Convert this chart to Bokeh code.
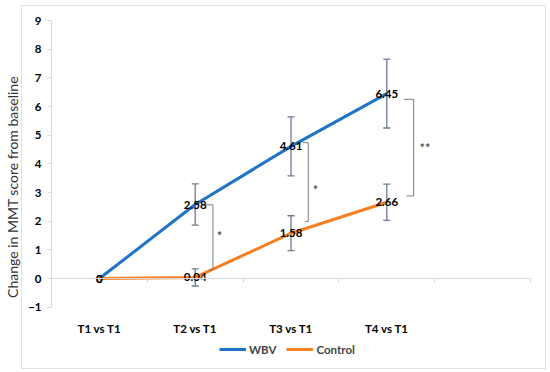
from bokeh.plotting import figure
from bokeh.models import (ColumnDataSource, Whisker, TeeHead, Legend,
                          LegendItem, FixedTicker, LinearAxis)
from bokeh.core.properties import value
from bokeh.embed import file_html
from bokeh.resources import INLINE

# ---- data -------------------------------------------------------------
categories = ["T1 vs T1", "T2 vs T1", "T3 vs T1", "T4 vs T1"]
wbv = [0, 2.58, 4.61, 6.45]
control = [0, 0.04, 1.58, 2.66]
wbv_err = [0, 0.72, 1.03, 1.20]
control_err = [0, 0.30, 0.61, 0.63]
y_ticks = [-1, 0, 1, 2, 3, 4, 5, 6, 7, 8, 9]

# significance brackets (comparisons at T2, T3, T4)
sig_cat = [2, 3, 4]
sig_top = [2.57, 4.74, 6.25]
sig_bottom = [0.30, 1.99, 2.88]
sig_text = ["*", "*", "**"]
sig_text_y = [1.50, 3.10, 4.57]

n_slots = 5  # Excel category axis keeps one empty slot at the end
x = list(range(1, len(categories) + 1))

BLUE = "#1f74c7"
ORANGE = "#f67f21"
ERR = "#6c7a8c"
BRK = "#7f7f7f"
AX = "#d9d9d9"
FONT = "Lato"

# layout constants (pixels)
PX_X = 95.8   # px per category
PX_Y = 28.67  # px per y unit

p = figure(width=550, height=372,
           x_range=(0.5 - 30 / PX_X, n_slots + 0.5 + 15 / PX_X),
           y_range=(-1 - 61.3 / PX_Y, 9 + 15 / PX_Y),
           x_axis_location=None, y_axis_location=None,
           output_backend="svg", toolbar_location=None,
           min_border_left=21, min_border_right=5, min_border_top=5, min_border_bottom=4,
           styles={"position": "absolute", "left": "0px", "top": "0px"})
p.outline_line_color = "#dde1ea"
p.outline_line_width = 1
p.grid.visible = False
p.background_fill_color = "white"
p.border_fill_color = "white"

# y axis at the left end of the category axis
yax = LinearAxis(fixed_location=0.5, ticker=FixedTicker(ticks=y_ticks), bounds=(-1, 9))
yax.axis_line_color = AX
yax.major_tick_line_color = AX
yax.major_tick_out = 4
yax.major_tick_in = 0
yax.minor_tick_line_color = None
yax.major_label_text_font = FONT
yax.major_label_text_font_style = "bold"
yax.major_label_text_font_size = "11.5px"
yax.major_label_text_color = "black"
yax.major_label_standoff = 6
p.add_layout(yax, "left")

# y axis title, outside the chart border
tax = LinearAxis(ticker=FixedTicker(ticks=[]), bounds=(-1, 7.77),
                 axis_label="Change in MMT score from baseline")
tax.axis_line_color = None
tax.major_tick_line_color = None
tax.minor_tick_line_color = None
tax.axis_label_standoff = 1
tax.axis_label_text_font = FONT
tax.axis_label_text_font_style = "normal"
tax.axis_label_text_font_size = "14px"
tax.axis_label_text_color = "#333333"
p.add_layout(tax, "left")

# category axis line crossing at y = 0, ticks at category boundaries
bounds = [i + 0.5 for i in range(1, n_slots + 1)]
cax = LinearAxis(fixed_location=0, ticker=FixedTicker(ticks=bounds), bounds=(0.5, n_slots + 0.5))
cax.axis_line_color = AX
cax.major_tick_line_color = AX
cax.major_tick_out = 4
cax.major_tick_in = 0
cax.minor_tick_line_color = None
cax.major_label_text_color = None
p.add_layout(cax, "below")

# category labels, low position (below y = -1)
xax = LinearAxis(fixed_location=-1, ticker=FixedTicker(ticks=x))
xax.major_label_overrides = {i: c for i, c in zip(x, categories)}
xax.axis_line_color = None
xax.major_tick_line_color = None
xax.minor_tick_line_color = None
xax.major_label_text_font = FONT
xax.major_label_text_font_style = "bold"
xax.major_label_text_font_size = "11.5px"
xax.major_label_text_color = "black"
xax.major_label_standoff = 9
p.add_layout(xax, "below")

# lines
r_wbv = p.line(x, wbv, line_color=BLUE, line_width=3)
r_ctl = p.line(x, control, line_color=ORANGE, line_width=3)

# error bars
for vals, errs in ((wbv, wbv_err), (control, control_err)):
    idx = [i for i, e in enumerate(errs) if e > 0]
    src = ColumnDataSource(dict(x=[x[i] for i in idx],
                                lo=[vals[i] - errs[i] for i in idx],
                                hi=[vals[i] + errs[i] for i in idx]))
    w = Whisker(base="x", upper="hi", lower="lo", source=src, line_color=ERR, line_width=1.3,
                upper_head=TeeHead(size=7, line_color=ERR, line_width=1.3),
                lower_head=TeeHead(size=7, line_color=ERR, line_width=1.3))
    p.add_layout(w)

# significance brackets
arm_l = [0.11, 0.12, 0.175]
arm_r = [0.185, 0.18, 0.28]
bx, by = [], []
for c, t, b, l, r in zip(sig_cat, sig_top, sig_bottom, arm_l, arm_r):
    bx.append([c + l, c + r, c + r, c + l + 0.03])
    by.append([t, t, b, b])
p.multi_line(bx, by, line_color=BRK, line_width=1)
star_x = [c + o for c, o in zip(sig_cat, [0.255, 0.255, 0.40])]
p.text(star_x, sig_text_y, text=sig_text, text_align="center", text_baseline="middle",
       text_font=value(FONT), text_font_size="13px", text_color="#333333")

# data labels
def fmt(v):
    return "0" if v == 0 else f"{v:.2f}"
for vals in (wbv, control):
    p.text(x, vals, text=[fmt(v) for v in vals], text_align="center", text_baseline="middle",
           text_font=value(FONT), text_font_style="bold", text_font_size="11.5px",
           text_color="black")

# legend below the category labels
legend = Legend(items=[LegendItem(label="WBV", renderers=[r_wbv]),
                       LegendItem(label="Control", renderers=[r_ctl])],
                location=(198, 12), orientation="horizontal")
legend.padding = 0
legend.margin = 0
legend.spacing = 10
legend.glyph_width = 27
legend.glyph_height = 14
legend.label_standoff = 3
legend.label_text_font = FONT
legend.label_text_font_style = "bold"
legend.label_text_font_size = "11.5px"
legend.border_line_color = None
legend.background_fill_alpha = 0
p.add_layout(legend)

open("out.html", "w").write(file_html(p, INLINE))
